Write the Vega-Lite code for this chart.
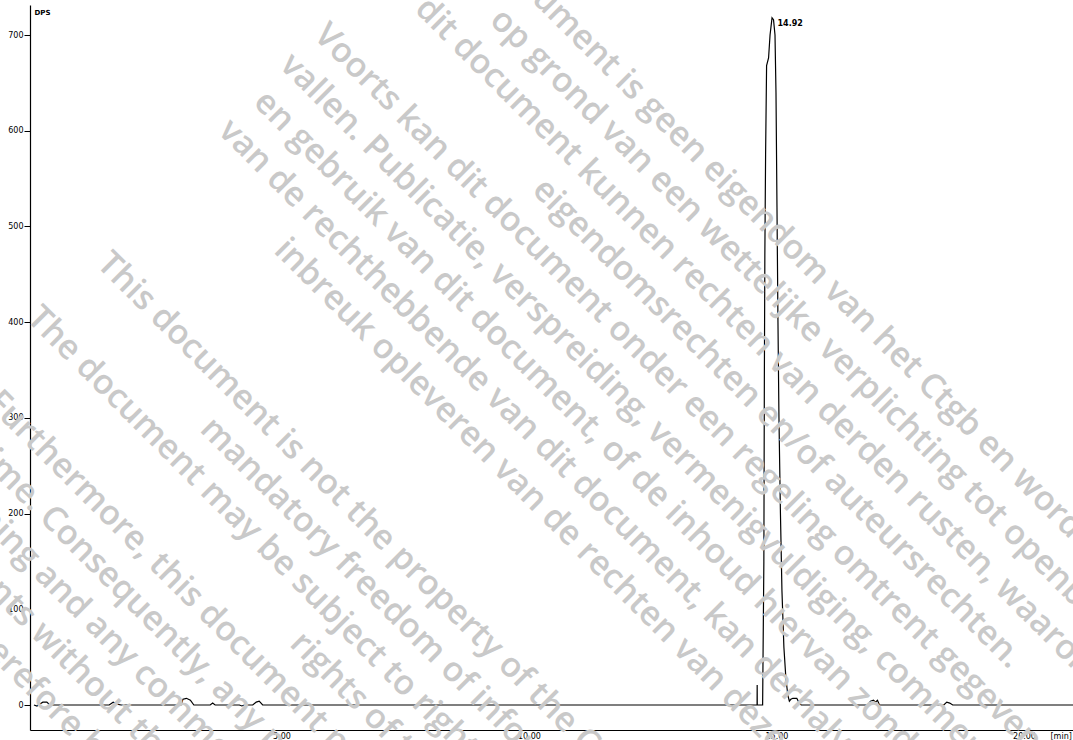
{
  "$schema": "https://vega.github.io/schema/vega-lite/v6.json",
  "width": 1043,
  "height": 725,
  "autosize": {"type": "none"},
  "padding": {"left": 30, "top": 5, "right": 0, "bottom": 10},
  "background": "white",
  "config": {"view": {"stroke": null}},
  "datasets": {
    "trace": [
      {"t": 0, "v": 0}, {"t": 0.06, "v": -1}, {"t": 0.12, "v": 1}, {"t": 0.18, "v": 3}, {"t": 0.26, "v": 3}, {"t": 0.32, "v": 0},
      {"t": 1.52, "v": 0}, {"t": 1.6, "v": 3}, {"t": 1.68, "v": 1}, {"t": 1.76, "v": 0},
      {"t": 2.97, "v": 0}, {"t": 3.01, "v": 6}, {"t": 3.08, "v": 7}, {"t": 3.16, "v": 5}, {"t": 3.23, "v": 0},
      {"t": 3.56, "v": 0}, {"t": 3.61, "v": 2}, {"t": 3.66, "v": 0},
      {"t": 4.15, "v": 0}, {"t": 4.2, "v": -1}, {"t": 4.25, "v": 0}, {"t": 4.42, "v": 0}, {"t": 4.49, "v": 3}, {"t": 4.55, "v": 4}, {"t": 4.62, "v": 0},
      {"t": 14.6, "v": 0}, {"t": 14.608, "v": 0}, {"t": 14.61, "v": 21}, {"t": 14.612, "v": 0},
      {"t": 14.72, "v": 0}, {"t": 14.745, "v": 150}, {"t": 14.755, "v": 340}, {"t": 14.765, "v": 470}, {"t": 14.78, "v": 575},
      {"t": 14.8, "v": 668}, {"t": 14.84, "v": 676}, {"t": 14.87, "v": 700}, {"t": 14.91, "v": 718}, {"t": 14.94, "v": 716},
      {"t": 14.97, "v": 700}, {"t": 14.99, "v": 640}, {"t": 15.01, "v": 520}, {"t": 15.03, "v": 400}, {"t": 15.05, "v": 300},
      {"t": 15.08, "v": 200}, {"t": 15.11, "v": 120}, {"t": 15.15, "v": 60}, {"t": 15.19, "v": 28}, {"t": 15.23, "v": 10},
      {"t": 15.26, "v": 4}, {"t": 15.29, "v": 6}, {"t": 15.33, "v": 7}, {"t": 15.41, "v": 7}, {"t": 15.45, "v": 3}, {"t": 15.5, "v": 0},
      {"t": 16.84, "v": 0}, {"t": 16.9, "v": 4}, {"t": 16.96, "v": 5}, {"t": 17.0, "v": 3}, {"t": 17.04, "v": 5}, {"t": 17.08, "v": 0},
      {"t": 18.38, "v": 0}, {"t": 18.44, "v": 3}, {"t": 18.5, "v": 2}, {"t": 18.56, "v": 0},
      {"t": 20.99, "v": 0}
    ],
    "peaks": [{"t": 14.92, "v": 718, "label": "14.92"}],
    "watermark": [
      {"text": "Dit document is geen eigendom van het Ctgb en wordt beschikbaar gesteld", "t": 8.384, "v": 821.6},
      {"text": "op grond van een wettelijke verplichting tot openbaarmaking.", "t": 9.184, "v": 713.8},
      {"text": "dit document kunnen rechten van derden rusten, waaronder", "t": 7.671, "v": 725.6},
      {"text": "eigendomsrechten en/of auteursrechten.", "t": 10.04, "v": 536.5},
      {"text": "Voorts kan dit document onder een regeling omtrent gegevensbescherming", "t": 5.626, "v": 698.2},
      {"text": "vallen. Publicatie, verspreiding, vermenigvuldiging, commercieel", "t": 4.941, "v": 667.2},
      {"text": "en gebruik van dit document, of de inhoud hiervan zonder toestemming", "t": 4.412, "v": 628.1},
      {"text": "van de rechthebbende van dit document, kan derhalve een", "t": 3.699, "v": 598.5},
      {"text": "inbreuk opleveren van de rechten van deze rechthebbende.", "t": 4.826, "v": 473.7},
      {"text": "This document is not the property of the Ctgb and is made available under the", "t": 1.242, "v": 459.6},
      {"text": "mandatory freedom of information act.", "t": 3.327, "v": 286.7},
      {"text": "The document may be subject to rights", "t": -0.172, "v": 402.7},
      {"text": "rights of third parties.", "t": 5.141, "v": 62.8},
      {"text": "Furthermore, this document may fall under a data protection", "t": -0.986, "v": 314.7},
      {"text": "regime. Consequently, any publication, distribution, reproduction", "t": -1.816, "v": 292.6},
      {"text": "publishing and any commercial exploitation and use of this", "t": -2.586, "v": 267.5},
      {"text": "contents without the permission of the owner of this document", "t": -2.273, "v": 186.2},
      {"text": "may therefore be prohibited and violate the rights of its owner.", "t": -2.616, "v": 139.0}
    ]
  },
  "encoding": {
    "x": {
      "field": "t", "type": "quantitative",
      "scale": {"domain": [-0.08, 20.99], "nice": false, "zero": false},
      "axis": {
        "values": [5, 10, 15, 20], "format": ".2f", "ticks": false, "grid": false,
        "domainColor": "black", "domainWidth": 1.2,
        "labelFont": "DejaVu Sans", "labelFontSize": 8, "labelColor": "black", "labelPadding": 2, "labelFlush": false,
        "title": "[min]", "titleX": 1020, "titleY": 2, "titleAlign": "left", "titleBaseline": "top",
        "titleFont": "DejaVu Sans", "titleFontSize": 8, "titleFontWeight": "normal", "titleColor": "black"
      }
    },
    "y": {
      "field": "v", "type": "quantitative",
      "scale": {"domain": [-26.1, 731.4], "nice": false, "zero": false},
      "axis": {
        "values": [0, 100, 200, 300, 400, 500, 600, 700], "ticks": true, "tickSize": 6, "tickColor": "black", "tickWidth": 1,
        "grid": false, "domainColor": "black", "domainWidth": 1.2,
        "labelFont": "DejaVu Sans", "labelFontSize": 8, "labelColor": "black", "labelPadding": 1,
        "title": "DPS", "titleAngle": 0, "titleX": 4, "titleY": 3, "titleAlign": "left", "titleBaseline": "top",
        "titleFont": "DejaVu Sans", "titleFontSize": 7, "titleFontWeight": "bold", "titleColor": "black"
      }
    }
  },
  "layer": [
    {
      "data": {"name": "trace"},
      "mark": {"type": "line", "color": "black", "strokeWidth": 1.2, "clip": true}
    },
    {
      "data": {"name": "peaks"},
      "mark": {"type": "text", "align": "left", "baseline": "middle", "dx": 5, "dy": 6, "font": "DejaVu Sans", "fontSize": 8, "fontWeight": "bold", "color": "black"},
      "encoding": {"text": {"field": "label"}}
    },
    {
      "data": {"name": "watermark"},
      "mark": {"type": "text", "align": "left", "baseline": "alphabetic", "angle": 45, "font": "Open Sans", "fontSize": 34, "fontWeight": 600, "color": "#c9c9c9"},
      "encoding": {"text": {"field": "text"}}
    }
  ]
}
